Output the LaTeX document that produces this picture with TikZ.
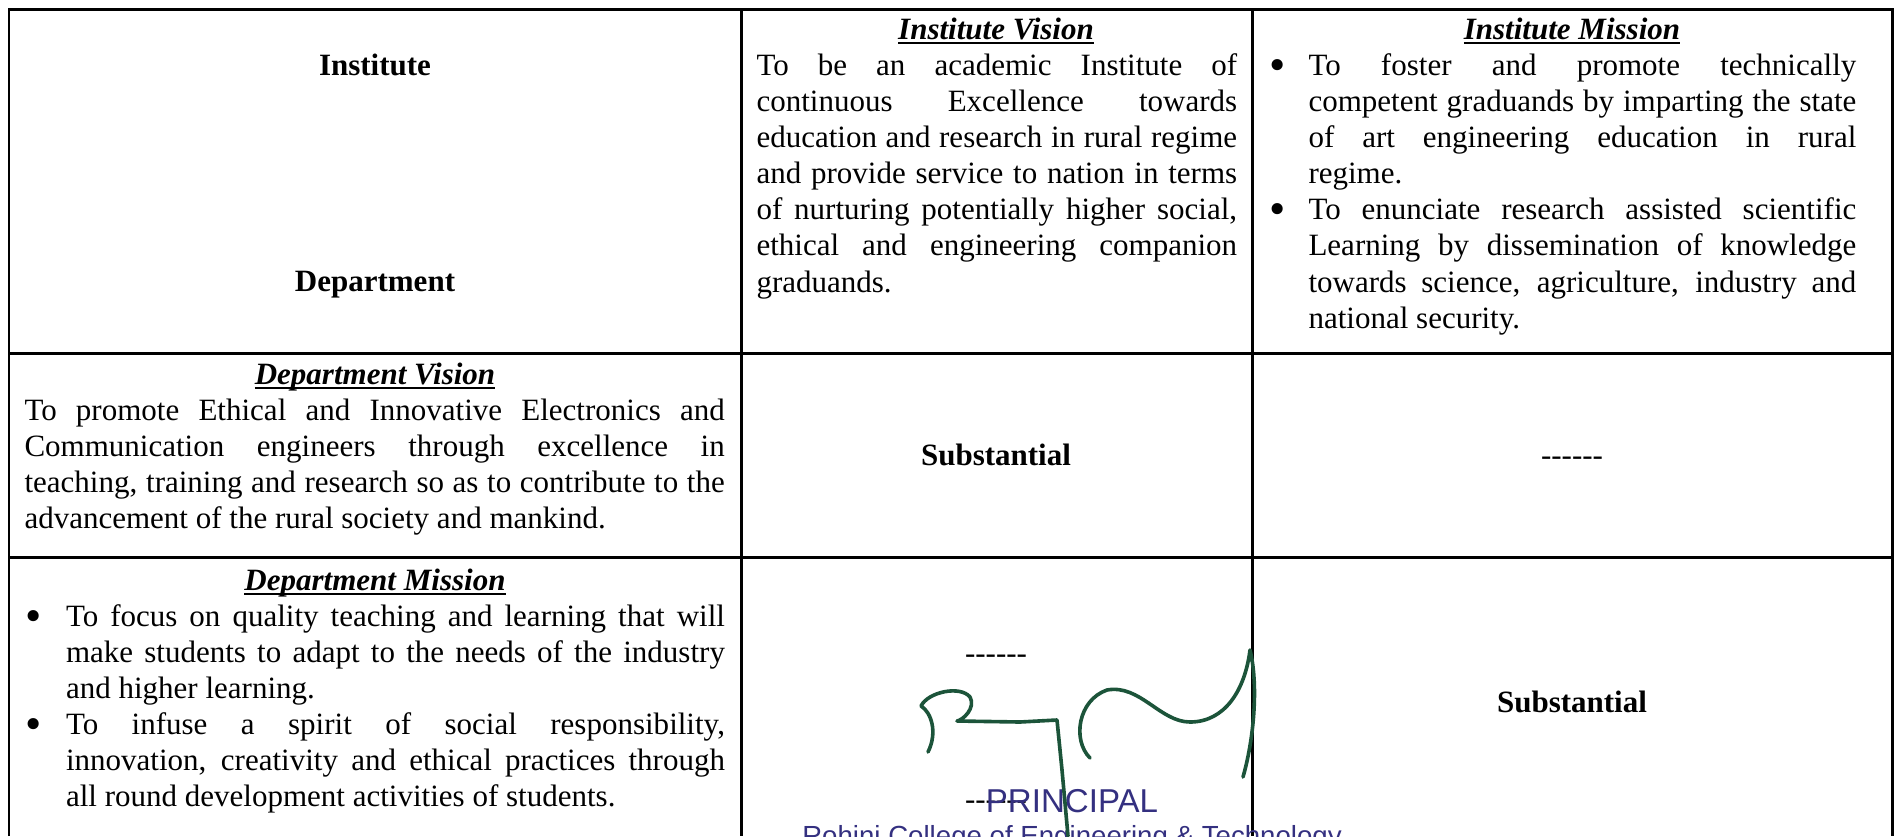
\documentclass[tikz,border=0pt]{standalone}
\usepackage{fontspec}
\setmainfont{Liberation Serif}
\newfontfamily\stampfont{Liberation Sans}
\usepackage{tikz}
\usetikzlibrary{calc}
\definecolor{signgreen}{RGB}{28,84,58}
\definecolor{stampblue}{RGB}{52,48,128}
\newcommand\cellfont{\fontsize{12}{14}\selectfont\tolerance=10000 \hbadness=10000 \hyphenpenalty=10000 }
\newcommand\headul[1]{\setbox0\hbox{#1}\rlap{\rule[-1.75pt]{\wd0}{0.75pt}}\box0}
\newcommand\bigdot{\raisebox{-2pt}{\fontsize{18}{14}\selectfont\textbullet}}
\tikzset{cell/.style={inner sep=0pt,anchor=base west,align=justify,font=\cellfont},
         head/.style={inner sep=0pt,anchor=base,font=\fontsize{12}{14}\selectfont\bfseries\itshape},
         bold/.style={inner sep=0pt,anchor=base,font=\fontsize{12}{14}\selectfont\bfseries},
         dot/.style={inner sep=0pt,anchor=base,font=\fontsize{12}{14}\selectfont}
}
\tikzstyle{grid} = [line width=1.16pt]
\tikzstyle{sign} = [line width=1.4pt,signgreen,line cap=round,line join=round]
\tikzstyle{stamp} = [inner sep=0pt,anchor=base,text=stampblue]

\begin{document}
\begin{tikzpicture}[x=0.387pt,y=-0.387pt]
\useasboundingbox (0,0) rectangle (1896,836);

\draw[grid] (9,836) -- (9,9) -- (1892,9) -- (1892,836);
\draw[grid] (741,9) -- (741,836);
\draw[grid] (1252,9) -- (1252,836);
\draw[grid] (9,353) -- (1892,353);
\draw[grid] (9,557) -- (1892,557);

\node[bold] (inst) at (375,75) {Institute};
\node[bold] (dept) at (375,291) {Department};

\node[head] (ivtitle) at (996,39) {\headul{Institute Vision}};
\node[cell,text width=186pt] (ivtext) at (756,75) {To be an academic Institute of\linebreak
 continuous Excellence towards\linebreak
 education and research in rural regime\linebreak
 and provide service to nation in terms\linebreak
 of nurturing potentially higher social,\linebreak
 ethical and engineering companion\linebreak
 graduands.};

\node[head] (imtitle) at (1572,39) {\headul{Institute Mission}};
\node[cell,text width=212pt] (imone) at (1308,75) {To foster and promote technically\linebreak
 competent graduands by imparting the state\linebreak
 of art engineering education in rural\linebreak
 regime.};
\node[cell,text width=212pt] (imtwo) at (1308,219.7) {To enunciate research assisted scientific\linebreak
 Learning by dissemination of knowledge\linebreak
 towards science, agriculture, industry and\linebreak
 national security.};
\node[dot] (imdotone) at ($(imone.base west)+(-30,0)$) {\bigdot};
\node[dot] (imdottwo) at ($(imtwo.base west)+(-30,0)$) {\bigdot};

\node[head] (dvtitle) at (375,384) {\headul{Department Vision}};
\node[cell,text width=271pt] (dvtext) at (24,420) {To promote Ethical and Innovative Electronics and\linebreak
 Communication engineers through excellence in\linebreak
 teaching, training and research so as to contribute to the\linebreak
 advancement of the rural society and mankind.};
\node[bold] (subone) at (996,465) {Substantial};
\node[dot] (dashone) at (1572,465) {-{}-{}-{}-{}-{}-};

\node[head] (dmtitle) at (375,590) {\headul{Department Mission}};
\node[cell,text width=255pt] (dmone) at (65.5,626) {To focus on quality teaching and learning that will\linebreak
 make students to adapt to the needs of the industry\linebreak
 and higher learning.};
\node[cell,text width=255pt] (dmtwo) at (65.5,734.5) {To infuse a spirit of social responsibility,\linebreak
 innovation, creativity and ethical practices through\linebreak
 all round development activities of students.};
\node[dot] (dmdotone) at ($(dmone.base west)+(-32,0)$) {\bigdot};
\node[dot] (dmdottwo) at ($(dmtwo.base west)+(-32,0)$) {\bigdot};
\node[dot] (dashtwo) at (996,663) {-{}-{}-{}-{}-{}-};
\node[dot] (dashthree) at (996,809) {-{}-{}-{}-{}-{}-};
\node[bold] (subtwo) at (1572,712) {Substantial};

\node[stamp,font=\stampfont\fontsize{12.8}{14}\selectfont] (principal) at (1072,812) {PRINCIPAL};
\node[stamp,font=\stampfont\fontsize{10.7}{12}\selectfont] (college) at (1072,845) {Rohini College of Engineering \& Technology};

\draw[sign] (928,752) .. controls (938,732) and (931,712) .. (921,706)
  .. controls (928,692) and (960,685) .. (970,697)
  .. controls (976,708) and (963,720) .. (957,721) -- (1020,722) -- (1057,720)
  -- (1062,770) -- (1068,836);
\draw[sign] (1090,758) .. controls (1072,740) and (1078,700) .. (1107,690)
  .. controls (1140,684) and (1160,722) .. (1190,722)
  .. controls (1225,722) and (1245,690) .. (1250,650)
  .. controls (1258,682) and (1255,735) .. (1243,777);

\end{tikzpicture}
\end{document}
